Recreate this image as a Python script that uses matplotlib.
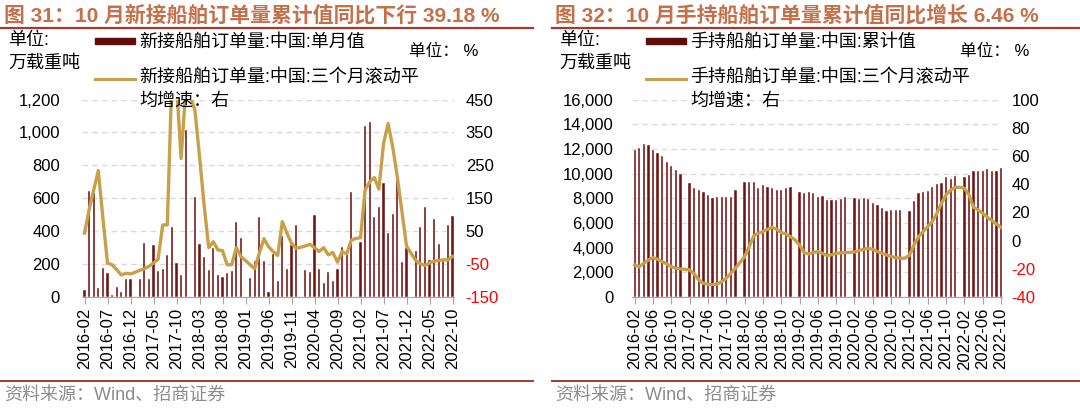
import numpy as np
import pandas as pd
import matplotlib
matplotlib.use("Agg")
import matplotlib.pyplot as plt
from matplotlib.lines import Line2D
from matplotlib.patches import Rectangle

plt.rcParams['font.family'] = ['Liberation Sans', 'Noto Sans CJK SC', 'DejaVu Sans']

months = [p.strftime('%Y-%m') for p in pd.period_range('2016-02', '2022-10', freq='M')]
nan = np.nan

# 新接船舶订单量:中国:单月值 (万载重吨)
new_orders = [44, 644, 630, 52, 178, 145, 12, 60, 28, 107, 107, nan,
              107, 329, 107, 317, 161, 170, 258, 426, 204, 133, 1012, nan,
              610, 321, 246, 164, 297, 131, 121, 147, 159, 458, 357, nan,
              113, 220, 487, 220, 30, 264, 97, 373, 170, 317, 438, nan,
              164, 153, 497, 170, 85, 149, 97, 170, 303, 275, 640, nan,
              337, 1038, 1064, 485, 549, 695, 388, 503, 731, 212, 297, nan,
              279, 428, 545, 226, 476, 323, 220, 438, 495]
# 新接船舶订单量:中国:三个月滚动平均增速 (%)
new_growth = [44, 115, 175, 234, 90, -47, -52, -67, -83, -78, -80, -75,
              -69, -64, -57, -47, -35, 69, 69, 520, 500, 271, 480, 460,
              418, 278, 130, 0, 18, -7, -9, -52, -52, 0, -27, -39,
              -52, -64, -17, 27, 3, -12, -24, 79, 44, 13, -2, 1,
              5, 10, 0, -12, 0, -22, -15, -44, -12, -19, 23, 28,
              30, 175, 200, 213, 178, 316, 377, 306, 215, 110, 5, -17,
              -39, -49, -54, -47, -41, -39, -37, -37, -27]

# 手持船舶订单量:中国:累计值 (万载重吨)
held_orders = [11918, 12053, 12404, 12296, 11918, 11702, 11431, 10918, 10621, 10297, 9972, nan,
               9216, 8864, 8648, 8513, 8270, 8000, 8081, 8081, 8081, 8135, 8702, nan,
               9300, 9350, 9300, 8860, 9080, 8950, 8800, 8650, 8700, 8800, 8890, nan,
               8486, 8405, 8540, 8405, 8135, 8162, 7892, 7892, 7838, 7946, 8135, nan,
               8000, 7919, 8027, 7946, 7649, 7487, 7216, 6946, 7054, 7054, 7054, nan,
               7000, 7811, 8405, 8486, 8621, 8945, 9135, 9216, 9756, 9594, 9837, nan,
               9756, 9891, 10215, 10215, 10242, 10350, 10188, 10242, 10431]
# 手持船舶订单量:中国:三个月滚动平均增速 (%)
held_growth = [-17.3, -18.5, -16.1, -13.7, -12.1, -13.3, -14.9, -16.6, -18.5, -19.6, -20.1, -20.4,
               -20.8, -23.7, -27.9, -30.3, -31.0, -31.2, -30.8, -29.1, -26.7, -23.2, -19.6, -15.6,
               -11.4, -4.3, 3.3, 5.2, 6.4, 8.0, 9.4, 8.0, 5.7, 4.7, 2.8, 0.5,
               -3.1, -8.5, -9.5, -8.5, -7.8, -9.0, -10.7, -10.0, -9.0, -8.8, -8.5, -8.3,
               -8.1, -7.1, -6.2, -5.5, -6.2, -7.8, -9.0, -10.2, -11.4, -12.1, -12.5, -12.5,
               -10.4, -3.1, 2.8, 6.4, 9.9, 13.5, 19.4, 26.5, 32.4, 35.9, 37.6, 37.8,
               37.1, 32.4, 23.6, 21.7, 19.4, 16.5, 14.2, 11.8, 9.4]

BAR = '#6E1414'
LINE = '#C9A04A'
TITLE = '#C4704A'
RULE = '#A8392E'
GRID = '#D9D9D9'
AXIS = '#A6A6A6'

W, H = 1080, 409
fig = plt.figure(figsize=(W / 100, H / 100), dpi=100)


def fx(px):
    return px / W


def fy(py):
    return 1 - py / H


def panel(x0, width, bars, line, step, ylim, yticks, rlim, rticks, bar_w,
          lpad, rpad, title, bar_label, line_label, ox):
    ax = fig.add_axes([fx(x0), fy(297), fx(width), (297 - 99.5) / H])
    x = np.arange(len(months))
    ax.bar(x, bars, width=bar_w, color=BAR, edgecolor='white', linewidth=0.3, zorder=2)
    ax.set_xlim(-0.5, len(months) - 0.7)
    ax.set_ylim(*ylim)
    ax.set_yticks(yticks)
    ax.set_yticklabels([f'{v:,}' for v in yticks])
    ax.yaxis.grid(True, linestyle=(0, (4, 3)), color=GRID, linewidth=1)
    ax.set_axisbelow(True)
    ax.set_xticks(x[::step])
    ax.set_xticklabels(months[::step], rotation=90, fontsize=12)
    for s in ['left', 'right', 'top']:
        ax.spines[s].set_visible(False)
    ax.spines['bottom'].set_color(AXIS)
    ax.tick_params(axis='x', colors=AXIS, length=5, pad=3, labelcolor='black')
    ax.tick_params(axis='y', length=0, pad=lpad, labelsize=12)

    ax2 = ax.twinx()
    ax2.plot(x, line, color=LINE, linewidth=2.4, solid_joinstyle='round', zorder=3)
    ax2.set_ylim(*rlim)
    ax2.set_yticks(rticks)
    ax2.set_yticklabels([str(v) for v in rticks])
    for s in ['left', 'right', 'top', 'bottom']:
        ax2.spines[s].set_visible(False)
    ax2.tick_params(axis='y', length=0, pad=rpad, labelsize=12)
    for lab, v in zip(ax2.get_yticklabels(), rticks):
        if v < 0:
            lab.set_color('#FF0000')

    # title and rules
    fig.text(fx(ox + 4), fy(15), title, fontsize=15, fontweight='bold',
             color=TITLE, va='center', ha='left')
    fig.add_artist(Line2D([fx(ox + 1), fx(ox + 533)], [fy(28), fy(28)], color=RULE, lw=1.6))
    fig.add_artist(Line2D([fx(ox + 1), fx(ox + 533)], [fy(381), fy(381)], color=RULE, lw=1.4))
    fig.text(fx(ox + 4), fy(395), '资料来源：Wind、招商证券', fontsize=13,
             color='#8C8C8C', va='center', ha='left')

    # units
    fig.text(fx(ox + 8), fy(41), '单位:', fontsize=13, va='center', ha='left')
    fig.text(fx(ox + 8), fy(63), '万载重吨', fontsize=13, va='center', ha='left')
    fig.text(fx(ox + 409), fy(51), '单位： %', fontsize=12, va='center', ha='left')

    # legend
    lx = ox + 95
    fig.add_artist(Rectangle((fx(lx), fy(44)), fx(40), 6 / H, color='#5E0E08'))
    fig.text(fx(lx + 44), fy(42), bar_label, fontsize=13, va='center', ha='left')
    fig.add_artist(Line2D([fx(lx), fx(lx + 40)], [fy(79), fy(79)], color=LINE, lw=2.2))
    fig.text(fx(lx + 44), fy(78), line_label, fontsize=13, va='center', ha='left')
    fig.text(fx(lx + 44), fy(101), '均增速：右', fontsize=13, va='center', ha='left')
    return ax


panel(82.2, 371.7, new_orders, new_growth, 5, (0, 1200), list(range(0, 1201, 200)),
      (-150, 450), list(range(-150, 451, 100)), 0.45, 16, 8.5,
      '图 31：10 月新接船舶订单量累计值同比下行 39.18 %',
      '新接船舶订单量:中国:单月值', '新接船舶订单量:中国:三个月滚动平', 0)

panel(632.4, 370.0, held_orders, held_growth, 4, (0, 16000), list(range(0, 16001, 2000)),
      (-40, 100), list(range(-40, 101, 20)), 0.5, 13.5, 6.5,
      '图 32：10 月手持船舶订单量累计值同比增长 6.46 %',
      '手持船舶订单量:中国:累计值', '手持船舶订单量:中国:三个月滚动平', 551)

fig.savefig('out.png', dpi=100)
